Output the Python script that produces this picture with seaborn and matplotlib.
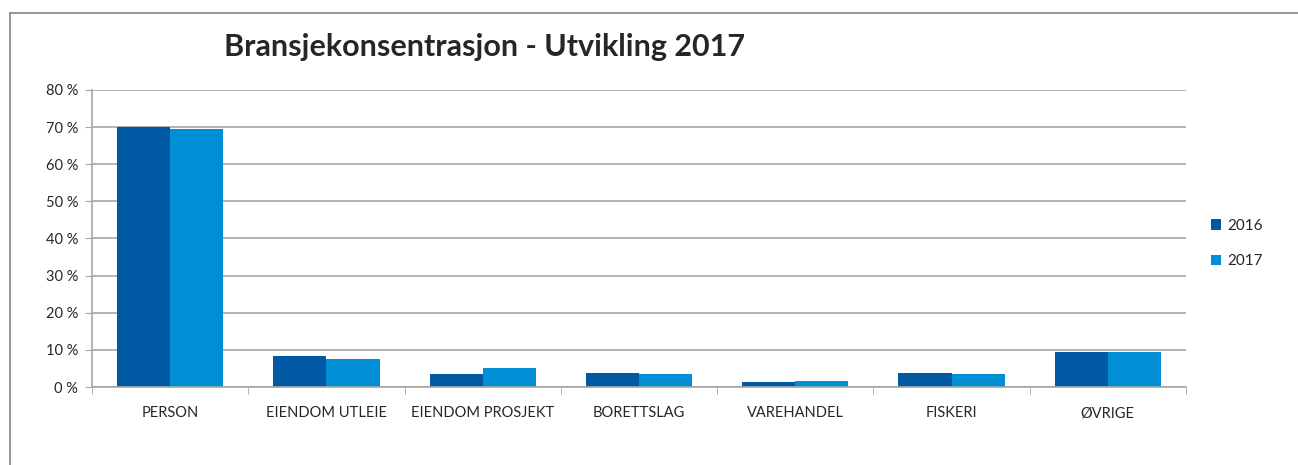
import numpy as np
import pandas as pd
import matplotlib.pyplot as plt
import seaborn as sns
from matplotlib.ticker import FuncFormatter, FixedLocator

# data (prosent, lest av bildet)
kategorier = ["PERSON", "EIENDOM UTLEIE", "EIENDOM PROSJEKT", "BORETTSLAG",
              "VAREHANDEL", "FISKERI", "ØVRIGE"]
aar = ["2016", "2017"]
verdier_2016 = [70.0, 8.4, 3.6, 3.9, 1.3, 3.8, 9.5]
verdier_2017 = [69.4, 7.6, 5.0, 3.5, 1.65, 3.6, 9.5]
farger = ["#005AA3", "#008FD5"]

df = pd.DataFrame({
    "kategori": kategorier * 2,
    "aar": [aar[0]] * len(kategorier) + [aar[1]] * len(kategorier),
    "andel": verdier_2016 + verdier_2017,
})

sns.set_style("white")
plt.rcParams["font.family"] = ["Lato", "DejaVu Sans"]

fig = plt.figure(figsize=(12.98, 4.65), dpi=100)
ax = fig.add_axes([0.0709, 0.1677, 0.8428, 0.6388])

sns.barplot(data=df, x="kategori", y="andel", hue="aar", palette=farger,
            width=0.68, saturation=1, linewidth=0, ax=ax, legend=True)

ax.set_ylim(0, 80)
ax.set_xlim(-0.5, len(kategorier) - 0.5)
ax.set_yticks(np.arange(0, 81, 10))
ax.yaxis.set_major_formatter(FuncFormatter(lambda v, p: f"{int(v)} %"))
ax.grid(axis="y", color="#A6A6A6", linewidth=1.2)
ax.set_axisbelow(True)
ax.set_xlabel("")
ax.set_ylabel("")

for s in ["top", "right"]:
    ax.spines[s].set_visible(False)
for s in ["left", "bottom"]:
    ax.spines[s].set_color("#A6A6A6")
    ax.spines[s].set_linewidth(1.2)

ax.tick_params(axis="y", labelsize=10.5, length=5, color="#A6A6A6", direction="out", left=True, pad=5)
ax.tick_params(axis="x", labelsize=10.5, length=0, pad=14)
ax.xaxis.set_minor_locator(FixedLocator(np.arange(-0.5, len(kategorier), 1)))
ax.tick_params(axis="x", which="minor", length=5, color="#A6A6A6", bottom=True)

ax.legend(loc="center left", bbox_to_anchor=(1.01, 0.483), frameon=False,
          fontsize=11, handlelength=0.7, handleheight=0.7, handletextpad=0.4,
          labelspacing=1.4)

fig.text(0.373, 0.899, "Bransjekonsentrasjon - Utvikling 2017", ha="center", va="center",
         fontsize=22, fontweight="bold")

# linje øverst og til venstre, som i originalen
fig.add_artist(plt.Line2D([9.5 / 1298, 1.0], [1 - 12.7 / 465] * 2, transform=fig.transFigure,
                          color="#8C8C8C", linewidth=1.3))
fig.add_artist(plt.Line2D([9.5 / 1298] * 2, [0, 1 - 12.7 / 465], transform=fig.transFigure,
                          color="#8C8C8C", linewidth=1.3))

fig.savefig("out.png", dpi=100, facecolor="white")
